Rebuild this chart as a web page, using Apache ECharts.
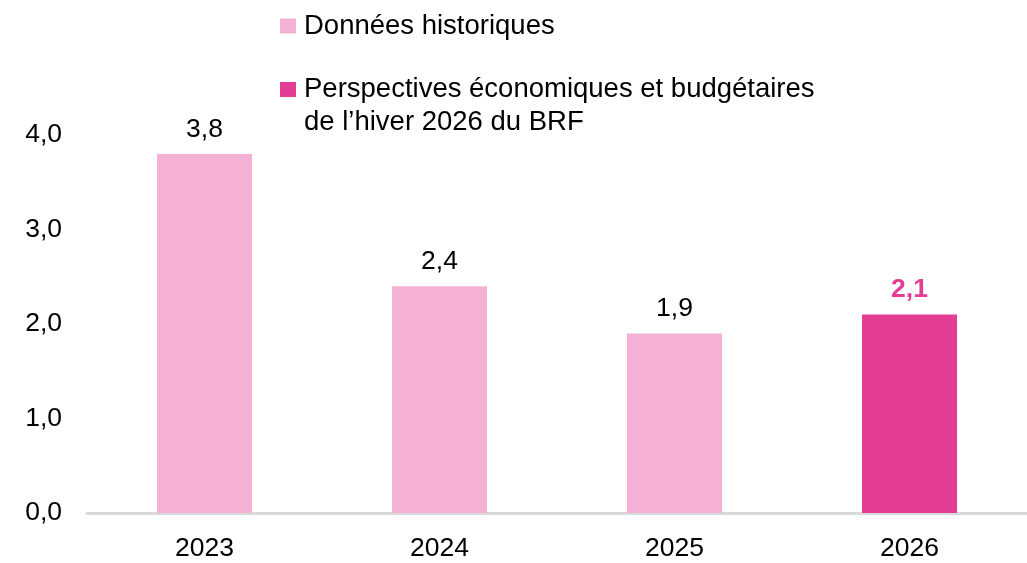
<!DOCTYPE html>
<html><head><meta charset="utf-8">
<script src="https://cdn.jsdelivr.net/npm/echarts@6/dist/echarts.min.js"></script>
<style>html,body{margin:0;padding:0;background:#fff}#c{width:1027px;height:563px}</style>
</head><body><div id="c"></div>
<script>
const categories = ['2023', '2024', '2025', '2026'];
const historical = [3.8, 2.4, 1.9, null];
const outlook = [null, null, null, 2.1];
const yTicks = [0, 1, 2, 3, 4];
const histName = 'Données historiques';
const outlookName = 'Perspectives économiques et budgétaires\nde l’hiver 2026 du BRF';

const FONT = '"Liberation Sans", Arial, sans-serif';
const FS = 26.5;
const LFS = 27.5;
const fmt = v => Number(v).toFixed(1).replace('.', ',');
const chart = echarts.init(document.getElementById('c'));
chart.setOption({
  animation: false,
  textStyle: { fontFamily: FONT },
  legend: [
    { data: [histName], left: 275, top: 6, itemWidth: 16, itemHeight: 15, itemGap: 0,
      icon: 'rect', selectedMode: false,
      textStyle: { fontSize: LFS, color: '#000', fontFamily: FONT, lineHeight: 30, padding: [0,0,0,3] } },
    { data: [outlookName], left: 275, top: 35, itemWidth: 16, itemHeight: 15,
      icon: 'rect', selectedMode: false,
      formatter: name => ' \n' + name,
      textStyle: { fontSize: LFS, color: '#000', fontFamily: FONT, lineHeight: 33, padding: [0,0,0,3] } }
  ],
  grid: { left: 87, right: 0, top: 135, bottom: 50, containLabel: false },
  xAxis: {
    type: 'category', data: categories,
    axisLine: { lineStyle: { color: '#d9d9d9', width: 3 } },
    axisTick: { show: false },
    axisLabel: { fontSize: FS, color: '#000', margin: 22, fontFamily: FONT }
  },
  yAxis: {
    type: 'value', min: yTicks[0], max: yTicks[yTicks.length - 1], interval: 1,
    splitLine: { show: false },
    axisLine: { show: false }, axisTick: { show: false },
    axisLabel: { fontSize: FS, color: '#000', margin: 25, formatter: fmt, fontFamily: FONT }
  },
  series: [
    { name: histName, type: 'bar', data: historical, barWidth: 95, barGap: '-100%',
      itemStyle: { color: '#F4B0D5' },
      label: { show: true, position: 'top', distance: 11, fontSize: FS, color: '#000', formatter: p => fmt(p.value), fontFamily: FONT } },
    { name: outlookName, type: 'bar', data: outlook, barWidth: 95, barGap: '-100%',
      itemStyle: { color: '#E43D94' },
      label: { show: true, position: 'top', distance: 11, fontSize: FS, fontWeight: 'bold', color: '#E43D94', formatter: p => fmt(p.value), fontFamily: FONT } }
  ]
});
</script></body></html>
